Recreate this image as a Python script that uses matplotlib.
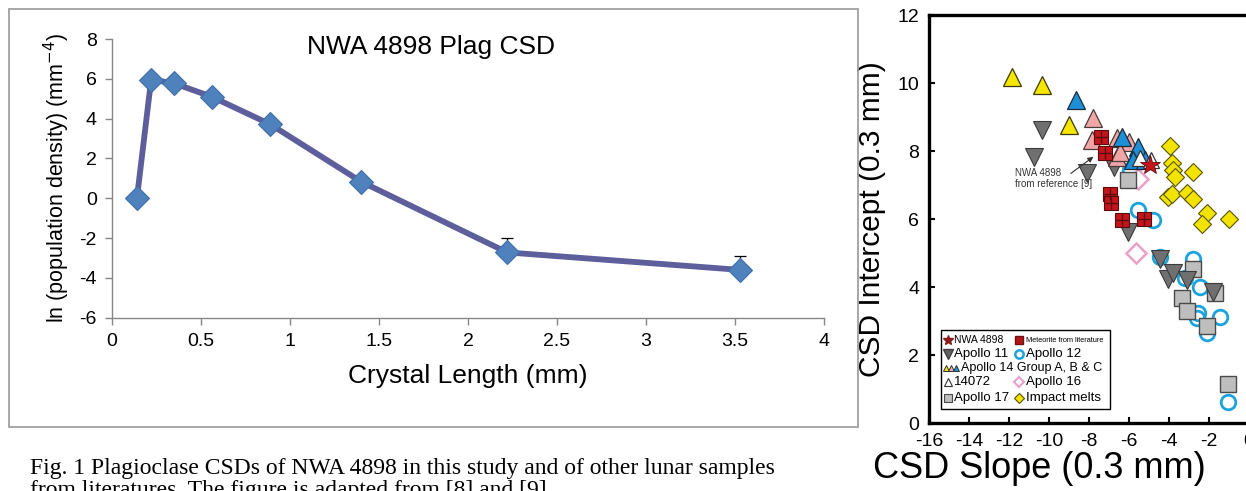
import matplotlib
matplotlib.use("Agg")
import matplotlib.pyplot as plt
from matplotlib.patches import Rectangle

# ---------------- Left panel data ----------------
crystal_length = [0.14, 0.22, 0.35, 0.56, 0.89, 1.40, 2.22, 3.53]
ln_density = [0.0, 5.96, 5.77, 5.10, 3.71, 0.83, -2.72, -3.60]
err_up = [0, 0, 0, 0, 0, 0, 0.70, 0.68]
left_xticks = [0, 0.5, 1, 1.5, 2, 2.5, 3, 3.5, 4]
left_xticklabels = ["0", "0.5", "1", "1.5", "2", "2.5", "3", "3.5", "4"]
left_yticks = [-6, -4, -2, 0, 2, 4, 6, 8]

# ---------------- Right panel data ----------------
a14A_x = [-11.86, -10.37, -8.98]
a14A_y = [10.19, 9.94, 8.76]
a14B_x = [-7.78, -7.87, -6.62, -5.98, -6.62, -6.45]
a14B_y = [8.96, 8.32, 8.37, 8.27, 7.83, 7.97]
a14C_x = [-8.65, -6.37, -5.57, -5.82, -5.20]
a14C_y = [9.50, 8.42, 8.13, 7.75, 7.74]
s14072_x = [-5.45, -4.92]
s14072_y = [7.78, 7.75]
a11_x = [-10.37, -10.75, -8.08, -6.73, -6.03, -4.45, -4.03, -3.78, -3.12, -1.78]
a11_y = [8.63, 7.83, 7.34, 7.54, 5.63, 4.81, 4.23, 4.42, 4.21, 3.86]
a12_x = [-5.95, -5.53, -4.78, -4.45, -2.78, -3.20, -2.45, -2.53, -2.62, -1.45, -2.12, -1.03]
a12_y = [7.44, 6.26, 5.97, 4.89, 4.81, 4.26, 4.01, 3.24, 3.08, 3.11, 2.64, 0.61]
a17_x = [-6.03, -2.78, -3.37, -3.12, -2.12, -1.70, -1.03]
a17_y = [7.15, 4.52, 3.67, 3.29, 2.86, 3.83, 1.15]
a16_x = [-5.53, -5.65]
a16_y = [7.17, 4.99]
impact_x = [-3.95, -3.87, -3.78, -3.70, -2.78, -4.03, -3.87, -3.12, -2.82, -2.12, -2.37, -0.98]
impact_y = [8.15, 7.64, 7.44, 7.25, 7.39, 6.66, 6.75, 6.77, 6.58, 6.19, 5.85, 6.00]
met_x = [-7.42, -7.20, -6.95, -6.92, -6.37, -5.23]
met_y = [8.40, 7.95, 6.75, 6.48, 5.97, 6.00]
nwa_x = [-4.95]
nwa_y = [7.59]
right_xticks = [-16, -14, -12, -10, -8, -6, -4, -2, 0]
right_yticks = [0, 2, 4, 6, 8, 10, 12]

W, H = 1246, 491
plt.rcParams['font.family'] = ['Liberation Sans', 'DejaVu Sans']
plt.rcParams['axes.unicode_minus'] = False
fig = plt.figure(figsize=(W / 100, H / 100), dpi=100)
fig.patch.set_facecolor('white')


def fx(px):
    return px / W


def fy(py):
    return 1 - py / H


# Border around left panel
fig.patches.append(Rectangle((fx(9), fy(427)), fx(858) - fx(9), fy(9) - fy(427),
                             transform=fig.transFigure, fill=False,
                             edgecolor='#A0A0A0', lw=1.3))

# ---------------- Left axes ----------------
axL = fig.add_axes([fx(112), fy(317.7), fx(824) - fx(112), fy(39) - fy(317.7)])
axL.set_xlim(0, 4)
axL.set_ylim(-6, 8)
axL.errorbar(crystal_length, ln_density, yerr=[[0] * len(err_up), err_up],
             fmt='none', ecolor='black', elinewidth=0.9, capsize=4, capthick=0.9, zorder=2)
axL.plot(crystal_length, ln_density, color='#5E5E9C', lw=4.2, zorder=3,
         solid_joinstyle='round')
axL.plot(crystal_length, ln_density, linestyle='none', marker='D', ms=12.5,
         markerfacecolor='#4F81BD', markeredgecolor='#3F6FA8', mew=0.8, zorder=4)
for s in ['top', 'right']:
    axL.spines[s].set_visible(False)
for s in ['left', 'bottom']:
    axL.spines[s].set_color('#868686')
    axL.spines[s].set_linewidth(1.0)
axL.set_xticks(left_xticks)
axL.set_xticklabels(left_xticklabels)
axL.set_yticks(left_yticks)
axL.tick_params(direction='out', length=5, width=1, color='#868686',
                labelsize=14, pad=6)
axL.set_xlabel('Crystal Length (mm)', fontsize=19, labelpad=10)
axL.set_ylabel('ln (population density) (mm$^{-4}$)', fontsize=15.5, labelpad=5)
fig.text(fx(431), fy(47), 'NWA 4898 Plag CSD', fontsize=19, ha='center', va='center')

fig.text(fx(30), fy(474), 'Fig. 1 Plagioclase CSDs of NWA 4898 in this study and of other lunar samples',
         family='Liberation Serif', fontsize=17, va='baseline', ha='left')
fig.text(fx(30), fy(496), 'from literatures. The figure is adapted from [8] and [9].',
         family='Liberation Serif', fontsize=17, va='baseline', ha='left')

# ---------------- Right axes ----------------
axR = fig.add_axes([fx(929), fy(423), fx(1249) - fx(929), fy(15) - fy(423)])
axR.set_xlim(-16, 0)
axR.set_ylim(0, 12)

axR.plot(a12_x, a12_y, 'o', ms=10.5, mfc='none', mec='#1BA3DD', mew=2.0, zorder=3)
axR.plot(impact_x, impact_y, 'D', ms=9.5, mfc='#F2E400', mec='#5A5400', mew=0.8, zorder=3)
axR.plot(a16_x, a16_y, 'D', ms=10, mfc='white', mec='#EAA0C8', mew=1.8, zorder=3)
axR.plot(a17_x, a17_y, 's', ms=11, mfc='#BEBEBE', mec='#4A4A4A', mew=1.0, zorder=4)
axR.plot(a11_x, a11_y, 'v', ms=12.5, mfc='#707070', mec='#3A3A3A', mew=0.8, zorder=4)
axR.plot(a14A_x, a14A_y, '^', ms=12.5, mfc='#F5E600', mec='#3A3A00', mew=0.9, zorder=5)
axR.plot(a14B_x, a14B_y, '^', ms=12.5, mfc='#F0A6A6', mec='#4A3A3A', mew=0.9, zorder=5)
axR.plot(a14C_x, a14C_y, '^', ms=12.5, mfc='#1E8FD5', mec='#1A2A3A', mew=0.9, zorder=5)
axR.plot(s14072_x, s14072_y, '^', ms=12, mfc='white', mec='#333333', mew=0.9, zorder=5)
axR.plot(met_x, met_y, 's', ms=10, mfc='#C4141C', mec='#5A0A0A', mew=0.8, zorder=6)
axR.plot(met_x, met_y, '+', ms=9, mec='#5A0A0A', mew=1.0, zorder=7)
axR.plot(nwa_x, nwa_y, '*', ms=15, mfc='#C8141C', mec='#600A0A', mew=0.6, zorder=8)

axR.annotate('', xy=(-7.78, 7.83), xytext=(-8.91, 7.34),
             arrowprops=dict(arrowstyle='-|>', color='#333333', lw=0.8,
                             mutation_scale=8, shrinkA=0, shrinkB=0), zorder=9)
axR.text(-11.7, 7.50, 'NWA 4898\nfrom reference [9]', fontsize=7, color='#333333',
         va='top', ha='left', linespacing=1.15, zorder=9)

for s in ['top', 'left', 'bottom', 'right']:
    axR.spines[s].set_linewidth(2.4)
    axR.spines[s].set_color('black')
axR.set_xticks(right_xticks)
axR.set_yticks(right_yticks)
axR.tick_params(direction='in', length=4, width=1.5, labelsize=14, pad=7)
axR.set_ylabel('CSD Intercept (0.3 mm)', fontsize=21.5, labelpad=8)
fig.text(fx(1039), fy(469), 'CSD Slope (0.3 mm)', fontsize=26, ha='center', va='center')

# Legend box (manual, two columns, third row spanning)
T = axR.transAxes


def ax_x(px):
    return (px - 929) / 320


def ax_y(py):
    return (423 - py) / 408


axR.add_patch(Rectangle((ax_x(941), ax_y(409)), ax_x(1110) - ax_x(941), ax_y(330) - ax_y(409),
                        transform=T, facecolor='white', edgecolor='black', lw=1.0, zorder=10))
rows = [340, 354, 368, 382, 398]
c1m, c1t, c2m, c2t = 948, 954, 1019, 1026
lk = dict(transform=T, zorder=11, clip_on=False)
axR.plot([ax_x(c1m)], [ax_y(rows[0])], '*', ms=7, mfc='#8B1A1A', mec='#8B1A1A', **lk)
axR.text(ax_x(c1t), ax_y(rows[0]), 'NWA 4898', fontsize=7.5, va='center', transform=T, zorder=11)
axR.plot([ax_x(c2m)], [ax_y(rows[0])], 's', ms=5.5, mfc='#B01818', mec='#701010', **lk)
axR.text(ax_x(c2t), ax_y(rows[0]), 'Meteorite from literature', fontsize=5.3, va='center',
         transform=T, zorder=11)
axR.plot([ax_x(c1m)], [ax_y(rows[1])], 'v', ms=6.5, mfc='#606060', mec='#404040', **lk)
axR.text(ax_x(c1t), ax_y(rows[1]), 'Apollo 11', fontsize=9.5, va='center', transform=T, zorder=11)
axR.plot([ax_x(c2m)], [ax_y(rows[1])], 'o', ms=6, mfc='none', mec='#1BA3DD', mew=1.8, **lk)
axR.text(ax_x(c2t), ax_y(rows[1]), 'Apollo 12', fontsize=9.5, va='center', transform=T, zorder=11)
for px, col in zip([946, 951, 956], ['#F5E600', '#F0A6A6', '#1E8FD5']):
    axR.plot([ax_x(px)], [ax_y(rows[2])], '^', ms=4.8, mfc=col, mec='#333333', mew=0.7, **lk)
axR.text(ax_x(961), ax_y(rows[2]), 'Apollo 14 Group A, B & C', fontsize=9.0, va='center',
         transform=T, zorder=11)
axR.plot([ax_x(c1m)], [ax_y(rows[3])], '^', ms=6, mfc='white', mec='#333333', mew=0.8, **lk)
axR.text(ax_x(c1t), ax_y(rows[3]), '14072', fontsize=9.5, va='center', transform=T, zorder=11)
axR.plot([ax_x(c2m)], [ax_y(rows[3])], 'D', ms=5.5, mfc='white', mec='#EAA0C8', mew=1.5, **lk)
axR.text(ax_x(c2t), ax_y(rows[3]), 'Apollo 16', fontsize=9.5, va='center', transform=T, zorder=11)
axR.plot([ax_x(c1m)], [ax_y(rows[4])], 's', ms=6, mfc='#BEBEBE', mec='#4A4A4A', mew=0.8, **lk)
axR.text(ax_x(c1t), ax_y(rows[4]), 'Apollo 17', fontsize=9.5, va='center', transform=T, zorder=11)
axR.plot([ax_x(c2m)], [ax_y(rows[4])], 'D', ms=5, mfc='#F2E400', mec='#5A5400', mew=0.8, **lk)
axR.text(ax_x(c2t), ax_y(rows[4]), 'Impact melts', fontsize=9.5, va='center', transform=T, zorder=11)

fig.savefig('out.png', dpi=100)
